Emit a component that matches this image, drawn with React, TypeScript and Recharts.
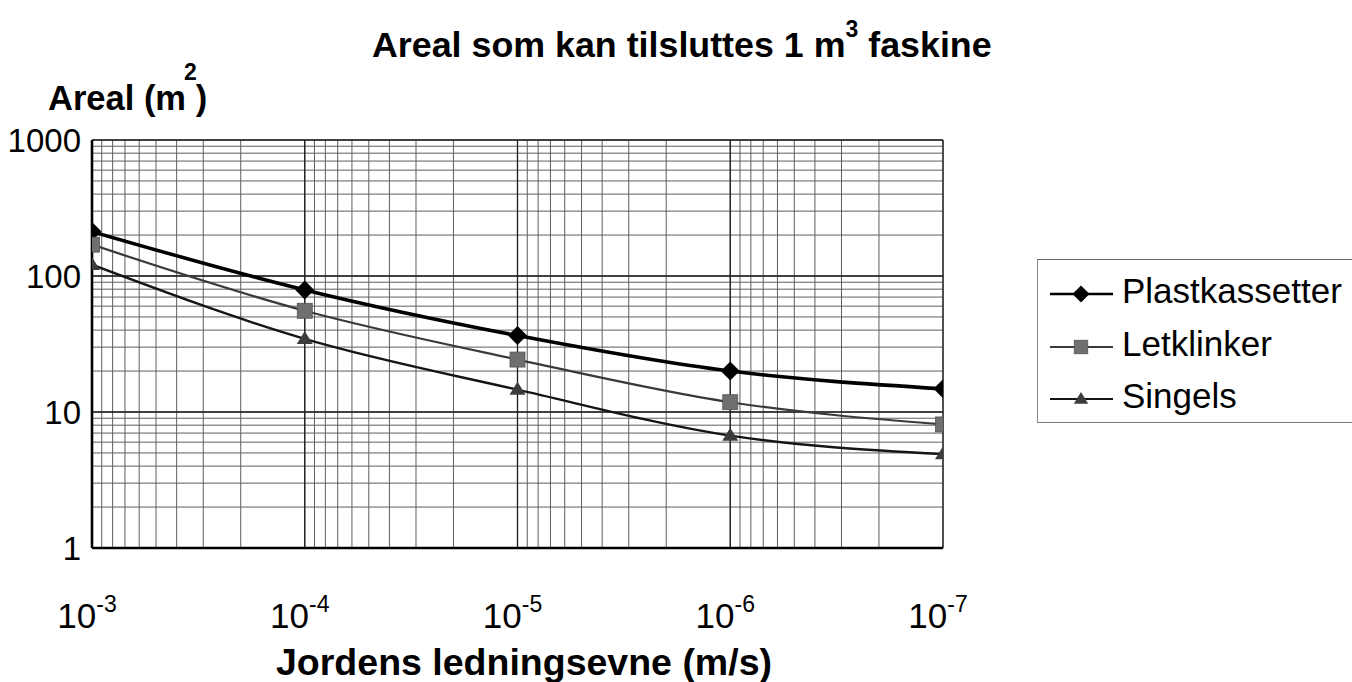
import React from 'react';
import { LineChart, Line, XAxis, YAxis, CartesianGrid, Legend } from 'recharts';

const FONT = '"Liberation Sans", Arial, Helvetica, sans-serif';

// Jordens ledningsevne (m/s)
const conductivity = [1e-3, 1e-4, 1e-5, 1e-6, 1e-7];
// Areal (m2)
const plastkassetter = [212, 79, 36.5, 20, 14.8];
const letklinker = [170, 55.5, 24.3, 11.8, 8.1];
const singels = [121, 34.5, 14.6, 6.7, 4.9];

const seriesNames = ['Plastkassetter', 'Letklinker', 'Singels'];

const xTickValues = [1e-3, 1e-4, 1e-5, 1e-6, 1e-7];
const xTickExponents = ['-3', '-4', '-5', '-6', '-7'];
const yTickValues = [1, 10, 100, 1000];
const yTickLabels = ['1', '10', '100', '1000'];

const xGridValues = [
  1e-3, 9e-4, 8e-4, 7e-4, 6e-4, 5e-4, 4e-4, 3e-4, 2e-4,
  1e-4, 9e-5, 8e-5, 7e-5, 6e-5, 5e-5, 4e-5, 3e-5, 2e-5,
  1e-5, 9e-6, 8e-6, 7e-6, 6e-6, 5e-6, 4e-6, 3e-6, 2e-6,
  1e-6, 9e-7, 8e-7, 7e-7, 6e-7, 5e-7, 4e-7, 3e-7, 2e-7,
  1e-7,
];
const yGridValues = [
  1, 2, 3, 4, 5, 6, 7, 8, 9,
  10, 20, 30, 40, 50, 60, 70, 80, 90,
  100, 200, 300, 400, 500, 600, 700, 800, 900,
  1000,
];

const data = conductivity.map((k, i) => ({
  k,
  plast: plastkassetter[i],
  letk: letklinker[i],
  sing: singels[i],
}));

const seriesKeys = ['plast', 'letk', 'sing'];
const seriesStyle = [
  { stroke: '#000000', width: 3.6, marker: 'diamond', fill: '#000000' },
  { stroke: '#3a3a3a', width: 2.2, marker: 'square', fill: '#6f6f6f' },
  { stroke: '#151515', width: 2.4, marker: 'triangle', fill: '#3c3c3c' },
];

function marker(kind: string, cx: number, cy: number, fill: string, key?: string, scale = 1) {
  if (kind === 'diamond') {
    const r = 9.5 * scale;
    return <path key={key} d={`M${cx},${cy - r}L${cx + r},${cy}L${cx},${cy + r}L${cx - r},${cy}Z`} fill={fill} />;
  }
  if (kind === 'square') {
    const h = 7.5 * scale;
    return <rect key={key} x={cx - h} y={cy - h} width={2 * h} height={2 * h} fill={fill} stroke="#555" strokeWidth={0.8} />;
  }
  const w = 8 * scale;
  const h = 13 * scale;
  return <path key={key} d={`M${cx},${cy - h * 0.6}L${cx + w},${cy + h * 0.4}L${cx - w},${cy + h * 0.4}Z`} fill={fill} />;
}

const findIdx = (arr: number[], v: number) => arr.findIndex((a) => Math.abs(a - v) <= a * 1e-6);

const XTick = (props: any) => {
  const { x, y, payload } = props;
  const i = findIdx(xTickValues, payload.value);
  return (
    <text x={x - 5} y={y + 80} textAnchor="middle" fontFamily={FONT} fontSize={35} fill="#000">
      10<tspan dy={-16} fontSize={23}>{xTickExponents[i]}</tspan>
    </text>
  );
};

const YTick = (props: any) => {
  const { x, y, payload } = props;
  const i = findIdx(yTickValues, payload.value);
  return (
    <text x={x - 11} y={y} dy={12} textAnchor="end" fontFamily={FONT} fontSize={33} fill="#000">
      {yTickLabels[i]}
    </text>
  );
};

const LegendBox = () => {
  const rowY = [34, 87, 139];
  return (
    <div
      style={{
        width: 315,
        height: 164,
        boxSizing: 'border-box',
        borderTop: '1.5px solid #666',
        borderBottom: '1.5px solid #777',
        borderLeft: '1.5px solid #888',
        background: '#fff',
      }}
    >
      <svg width={313} height={161} style={{ display: 'block' }}>
        {seriesNames.map((name, i) => (
          <g key={name}>
            <line x1={12} x2={75} y1={rowY[i]} y2={rowY[i]} stroke={seriesStyle[i].stroke} strokeWidth={i === 0 ? 2.6 : 2} />
            {marker(seriesStyle[i].marker, 43, rowY[i], seriesStyle[i].fill, undefined, 0.9)}
            <text x={84} y={rowY[i] + 9} fontFamily={FONT} fontSize={35} fill="#000">
              {name}
            </text>
          </g>
        ))}
      </svg>
    </div>
  );
};

export default function App() {
  return (
    <div style={{ position: 'absolute', left: 0, top: 0, width: 1352, height: 682, background: '#fff' }}>
      <LineChart
        width={1352}
        height={682}
        data={data}
        margin={{ top: 140, right: 409, bottom: 0, left: 0 }}
      >
        <XAxis
          xAxisId="grid"
          dataKey="k"
          type="number"
          scale="log"
          domain={[1e-7, 1e-3]}
          reversed
          ticks={xGridValues}
          interval={0}
          allowDataOverflow
          hide
        />
        <YAxis
          yAxisId="grid"
          type="number"
          scale="log"
          domain={[1, 1000]}
          ticks={yGridValues}
          interval={0}
          allowDataOverflow
          hide
        />
        <CartesianGrid xAxisId="grid" yAxisId="grid" stroke="#5e5e5e" strokeWidth={1} />
        <CartesianGrid stroke="#1c1c1c" strokeWidth={1.3} />
        <XAxis
          dataKey="k"
          type="number"
          scale="log"
          domain={[1e-7, 1e-3]}
          reversed
          ticks={xTickValues}
          interval={0}
          allowDataOverflow
          height={134}
          tickSize={0}
          tickMargin={0}
          tickLine={false}
          axisLine={{ stroke: '#000', strokeWidth: 2.6 }}
          tick={<XTick />}
        />
        <YAxis
          type="number"
          scale="log"
          domain={[1, 1000]}
          ticks={yTickValues}
          interval={0}
          allowDataOverflow
          width={92}
          tickSize={0}
          tickMargin={0}
          tickLine={false}
          axisLine={{ stroke: '#000', strokeWidth: 2.6 }}
          tick={<YTick />}
        />
        {seriesKeys.map((key, i) => (
          <Line
            key={key}
            dataKey={key}
            name={seriesNames[i]}
            type="monotone"
            stroke={seriesStyle[i].stroke}
            strokeWidth={seriesStyle[i].width}
            isAnimationActive={false}
            dot={(p: any) => marker(seriesStyle[i].marker, p.cx, p.cy, seriesStyle[i].fill, `${key}-${p.index}`)}
            activeDot={false}
          />
        ))}
        <Legend
          layout="vertical"
          align="center"
          verticalAlign="middle"
          wrapperStyle={{ left: 1037, top: 259, width: 315, height: 164 }}
          content={<LegendBox />}
        />
        <text x={372} y={57} fontFamily={FONT} fontSize={35.8} fontWeight="bold" fill="#000">
          Areal som kan tilsluttes 1 m<tspan dy={-20} fontSize={23}>3</tspan>
          <tspan dy={20}>{' faskine'}</tspan>
        </text>
        <text x={48} y={110} fontFamily={FONT} fontSize={34.5} fontWeight="bold" fill="#000">
          Areal (m<tspan dx={-2} dy={-30} fontSize={23}>2</tspan>
          <tspan dx={-1} dy={30}>)</tspan>
        </text>
        <text x={524} y={675} textAnchor="middle" fontFamily={FONT} fontSize={37.5} fontWeight="bold" fill="#000">
          Jordens ledningsevne (m/s)
        </text>
      </LineChart>
    </div>
  );
}
